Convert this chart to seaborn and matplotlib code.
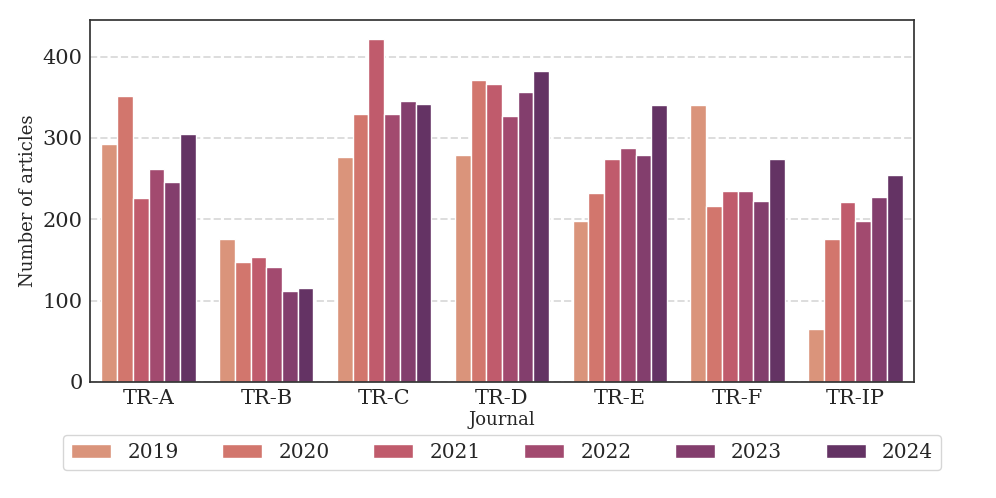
import numpy as np
import pandas as pd
import matplotlib
matplotlib.use("Agg")
import matplotlib.pyplot as plt
import seaborn as sb

# articles per journal and year
journals = ["TR-A", "TR-B", "TR-C", "TR-D", "TR-E", "TR-F", "TR-IP"]
years = ["2019", "2020", "2021", "2022", "2023", "2024"]
y2019 = [293, 176, 276, 279, 198, 341, 65]
y2020 = [352, 147, 329, 371, 232, 216, 176]
y2021 = [226, 154, 422, 366, 274, 235, 221]
y2022 = [262, 141, 329, 327, 287, 235, 198]
y2023 = [246, 112, 345, 356, 279, 223, 227]
y2024 = [305, 115, 342, 382, 341, 274, 254]

rows = []
for yr, vals in zip(years, [y2019, y2020, y2021, y2022, y2023, y2024]):
    for j, v in zip(journals, vals):
        rows.append({"Journal": j, "Year": yr, "Number of articles": v})
df = pd.DataFrame(rows)

sb.set_theme(style="white")
plt.rcParams["font.family"] = ["DejaVu Serif"]

fig, ax = plt.subplots(figsize=(9.96, 4.98), dpi=100)
sb.barplot(data=df, x="Journal", y="Number of articles", hue="Year",
           palette="flare", edgecolor="white", linewidth=1, ax=ax)
ax.yaxis.grid(True, linestyle="--", color="#dddddd", linewidth=1.4)
ax.set_axisbelow(True)
ax.set_ylim(0, 445)
ax.set_yticks([0, 100, 200, 300, 400])
ax.tick_params(labelsize=15, length=0, pad=5)
for s in ax.spines.values():
    s.set_color("#333333")
ax.set_xlabel("Journal", fontsize=13, labelpad=2)
ax.set_ylabel("Number of articles", fontsize=13)
ax.legend(loc="upper center", bbox_to_anchor=(0.5, -0.118), ncol=6,
          fontsize=14.5, frameon=True, handlelength=2.0, columnspacing=2.15)
plt.subplots_adjust(left=0.09, right=0.918, top=0.96, bottom=0.233)
plt.savefig("out.png", dpi=100)
